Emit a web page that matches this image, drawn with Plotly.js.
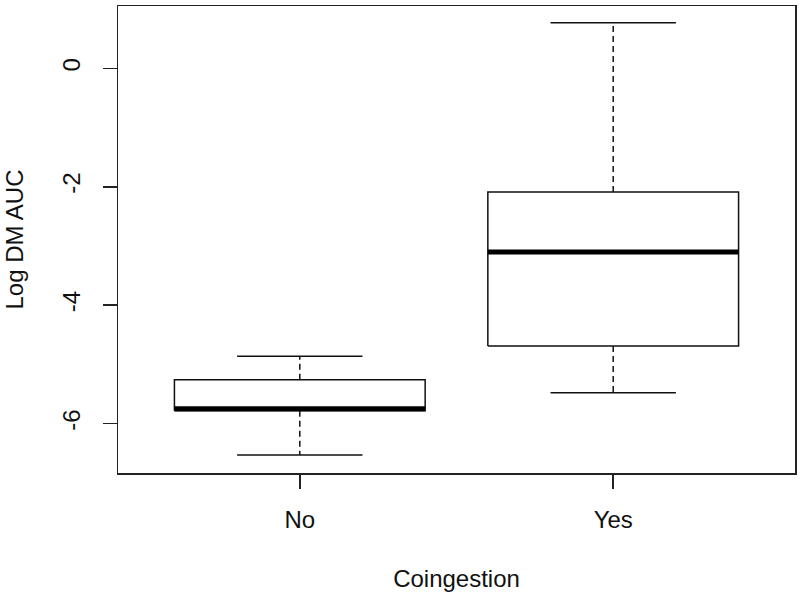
<!DOCTYPE html>
<html>
<head>
<meta charset="utf-8">
<script src="https://cdn.plot.ly/plotly-3.0.1.min.js"></script>
<style>html,body{margin:0;padding:0;background:#fff;}#chart{width:800px;height:596px;}</style>
</head>
<body>
<div id="chart"></div>
<script>
const categories = ["No", "Yes"];
const lowerWhisker = [-6.53, -5.48];
const q1 = [-5.78, -4.69];
const median = [-5.75, -3.10];
const q3 = [-5.26, -2.09];
const upperWhisker = [-4.86, 0.77];
const yTicks = [-6, -4, -2, 0];
const yTickText = ["-6", "-4", "-2", "0"];

const boxHalf = 0.4, capHalf = 0.2;
const bx = [], by = [], mx = [], my = [], wx = [], wy = [], cx = [], cy = [];
categories.forEach((c, i) => {
  const p = i + 1;
  bx.push(p - boxHalf, p + boxHalf, p + boxHalf, p - boxHalf, p - boxHalf, null);
  by.push(q1[i], q1[i], q3[i], q3[i], q1[i], null);
  mx.push(p - boxHalf, p + boxHalf, null);
  my.push(median[i], median[i], null);
  wx.push(p, p, null, p, p, null);
  wy.push(q3[i], upperWhisker[i], null, q1[i], lowerWhisker[i], null);
  cx.push(p - capHalf, p + capHalf, null, p - capHalf, p + capHalf, null);
  cy.push(upperWhisker[i], upperWhisker[i], null, lowerWhisker[i], lowerWhisker[i], null);
});

const common = {type: 'scatter', mode: 'lines', hoverinfo: 'skip', showlegend: false};
const traces = [
  Object.assign({}, common, {x: wx, y: wy, line: {color: '#111', width: 1.5, dash: '6px,4px'}}),
  Object.assign({}, common, {x: cx, y: cy, line: {color: '#111', width: 1.5}}),
  Object.assign({}, common, {x: bx, y: by, line: {color: '#111', width: 1.5}}),
  Object.assign({}, common, {x: mx, y: my, line: {color: '#000', width: 5}})
];

const font = {family: 'Liberation Sans, Arial, sans-serif', size: 24, color: '#111'};
const layout = {
  width: 800, height: 596,
  margin: {l: 118, r: 5, t: 6, b: 123},
  paper_bgcolor: '#fff', plot_bgcolor: '#fff',
  font: font,
  showlegend: false,
  xaxis: {
    range: [0.42, 2.58],
    tickvals: [1, 2], ticktext: categories,
    ticks: 'outside', ticklen: 14, tickwidth: 1.5, tickcolor: '#222',
    ticklabelstandoff: 11,
    showgrid: false, zeroline: false,
    showline: true, mirror: true, linecolor: '#222', linewidth: 1.5,
    tickfont: font,
    title: {text: 'Coingestion', font: font, standoff: 38}
  },
  yaxis: {
    range: [-6.833, 1.052],
    tickvals: yTicks, ticktext: yTickText,
    ticks: 'outside', ticklen: 14, tickwidth: 1.5, tickcolor: '#222',
    ticklabelstandoff: 13,
    tickangle: -90,
    showgrid: false, zeroline: false,
    showline: true, mirror: true, linecolor: '#222', linewidth: 1.5,
    tickfont: font,
    title: {text: 'Log DM AUC', font: font, standoff: 27}
  }
};

Plotly.newPlot('chart', traces, layout, {staticPlot: true, displayModeBar: false});
</script>
</body>
</html>
